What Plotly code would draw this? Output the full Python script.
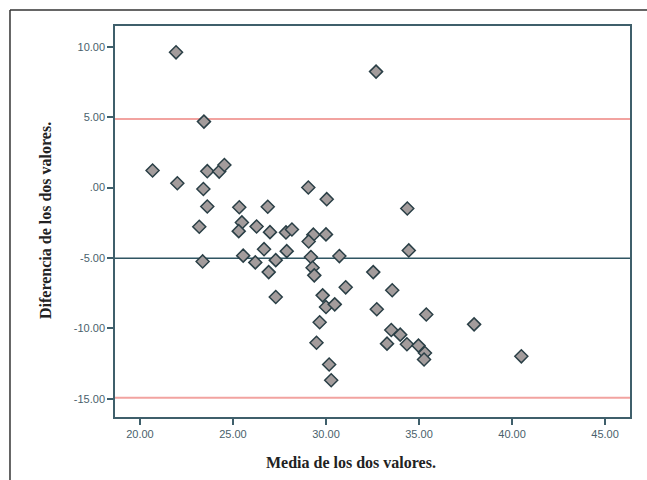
import plotly.graph_objects as go

media = [21.94, 32.69, 23.44, 20.68, 22.01, 23.62, 24.26, 24.54, 23.41, 23.62,
         23.19, 23.37, 29.05, 30.04, 25.34, 26.87, 25.48, 25.31, 26.27, 26.99,
         27.85, 28.17, 26.67, 27.89, 25.55, 26.20, 27.30, 26.92, 27.30, 34.37,
         34.45, 29.32, 30.00, 29.07, 29.19, 30.72, 29.28, 29.37, 32.54, 31.06,
         29.82, 30.00, 30.47, 33.56, 32.73, 29.66, 29.49, 30.17, 30.28, 35.39,
         33.51, 33.99, 33.28, 34.35, 34.97, 35.32, 35.27, 37.96, 40.50]
diferencia = [9.60, 8.23, 4.68, 1.21, 0.30, 1.16, 1.13, 1.60, -0.11, -1.35,
              -2.79, -5.25, 0.00, -0.83, -1.40, -1.37, -2.48, -3.10, -2.77, -3.17,
              -3.19, -2.98, -4.38, -4.52, -4.84, -5.32, -5.16, -6.01, -7.78, -1.49,
              -4.47, -3.35, -3.33, -3.83, -4.94, -4.87, -5.70, -6.24, -6.01, -7.09,
              -7.66, -8.49, -8.30, -7.30, -8.65, -9.57, -11.03, -12.57, -13.69, -9.02,
              -10.12, -10.45, -11.09, -11.13, -11.23, -11.75, -12.22, -9.72, -11.99]

media_dif = -5.03
lim_sup = 4.87
lim_inf = -14.93

x_ticks = [20, 25, 30, 35, 40, 45]
x_tick_labels = ["20.00", "25.00", "30.00", "35.00", "40.00", "45.00"]
y_ticks = [10, 5, 0, -5, -10, -15]
y_tick_labels = ["10.00", "5.00", ".00", "-5.00", "-10.00", "-15.00"]

axis_col = "#3f5f6b"
tick_font = dict(family="Liberation Sans", size=11, color="#4a5f6c")

fig = go.Figure()
fig.add_trace(go.Scatter(
    x=media, y=diferencia, mode="markers",
    marker=dict(symbol="diamond", size=10, color="#a39c9c",
                line=dict(color="#2a3f46", width=1.5)),
    showlegend=False, cliponaxis=False))

for val, col, w in [(lim_sup, "#f2a3a0", 2), (lim_inf, "#f2a3a0", 2), (media_dif, "#2f5562", 1.5)]:
    fig.add_shape(type="line", xref="paper", x0=0, x1=1, yref="y", y0=val, y1=val,
                  line=dict(color=col, width=w), layer="below")

# outer frame (left and top edges)
fig.add_shape(type="line", xref="paper", yref="paper", x0=-0.2039, x1=-0.2039,
              y0=-0.25, y1=1.0409, line=dict(color="#333333", width=1.5))
fig.add_shape(type="line", xref="paper", yref="paper", x0=-0.2039, x1=1.1,
              y0=1.0409, y1=1.0409, line=dict(color="#333333", width=1.5))

fig.add_annotation(text="<b>Media de los dos valores.</b>", xref="paper", yref="paper",
                   x=(351 - 115) / 515, y=(417 - 462) / 391, showarrow=False,
                   font=dict(family="Liberation Serif", size=16, color="#222222"),
                   xanchor="center", yanchor="middle")
fig.add_annotation(text="<b>Diferencia de los dos valores.</b>", xref="paper", yref="paper",
                   x=(45 - 115) / 515, y=(417 - 221) / 391, showarrow=False, textangle=-90,
                   font=dict(family="Liberation Serif", size=16, color="#222222"),
                   xanchor="center", yanchor="middle")

fig.update_xaxes(range=[18.66, 46.34], tickvals=x_ticks, ticktext=x_tick_labels,
                 showgrid=False, zeroline=False, showline=True, mirror=True,
                 linecolor=axis_col, linewidth=1.5, ticks="outside", ticklen=6,
                 tickcolor=axis_col, tickwidth=1.5, tickfont=tick_font)
fig.update_yaxes(range=[-16.3, 11.47], tickvals=y_ticks, ticktext=y_tick_labels,
                 showgrid=False, zeroline=False, showline=True, mirror=True,
                 linecolor=axis_col, linewidth=1.5, ticks="outside", ticklen=6,
                 tickcolor=axis_col, tickwidth=1.5, tickfont=tick_font)

fig.update_layout(width=647, height=480, plot_bgcolor="white", paper_bgcolor="white",
                  margin=dict(l=115, r=17, t=26, b=63))

fig.write_html("out.html")
